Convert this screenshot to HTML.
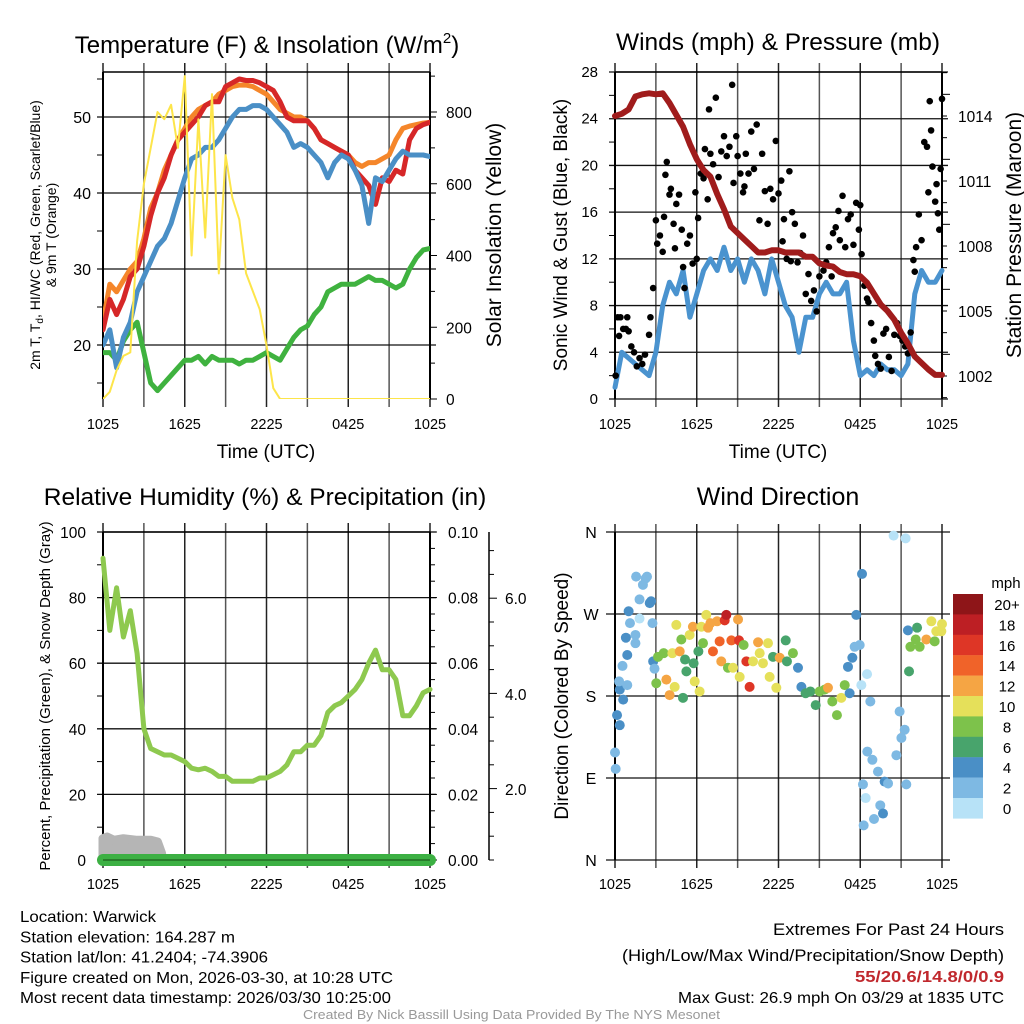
<!DOCTYPE html>
<html><head><meta charset="utf-8"><style>
html,body{margin:0;padding:0;background:#fff;}
svg{display:block;font-family:"Liberation Sans",Arial,sans-serif;}
</style></head><body>
<svg id="c" width="1024" height="1024" viewBox="0 0 1024 1024" xmlns="http://www.w3.org/2000/svg"></svg>
<script>
// ---------- data (half-hourly, hour 0..24 from 1025 UTC) ----------
const xTickLabels = ["1025","1625","2225","0425","1025"];
const tempRed = [22,26,24,26,29,30,33,37,40,42,45,47,48,49,50,51.5,52,52,54,54.5,55,54.8,54.8,54.5,54,53.5,52,50,49.5,49.5,49.5,48.5,47,46.5,46,45.5,45,43,42,41,38.5,42,41.5,43,42.5,47,48.5,49,49.3];
const tempOrange = [23,28,27,28.5,30,31,34,38,40,43,45,47,48.5,50,51,51.5,52,53,53.5,54,54.2,54.2,54,53.5,53,52,51,50.5,50,50,49.5,48.5,47,46.5,46,45.5,45,44,43.5,44,44,44.5,45,47,48.5,48.8,49,49.2,49.3];
const tempBlue = [20,22,17,21,23,27,29,31,33,34,36,39,42,44.5,45,46,46,47,48.5,50,51,51,51.5,51.5,51,50,49,48,46,46.5,46,45,44,42,44,45,44.5,43,41,36,42,41.5,43,44.5,45.5,45,45,45,44.8];
const dewGreen = [19,19,18,20.5,22,23,19,15,14,15,16,17,18,18,18.5,17.5,18.5,18,18,18,17.5,18,18,18.5,19,18.5,18,19.5,21,22,22.5,24,25,27,27.5,28,28,28,28.5,29,28.5,28.5,28,27.5,28,30,31.5,32.5,32.7];
const solar = [0,20,80,120,130,440,600,700,800,780,820,700,900,400,780,450,850,350,680,560,500,350,300,250,150,30,0,0,0,0,0,0,0,0,0,0,0,0,0,0,0,0,0,0,0,0,0,0,0];
const windSpeed = [1,4,3.5,3,2.5,2,4,8,10,9,11,7,9,11,12,11,13,11,12,10,12,11,9,12,10,8,7,4,7,7,9,10,9,9,10,5,2,2.5,2,3,2.5,2.5,2,3,9,11,10,10,11];
const pressure = [1014,1014.1,1014.3,1014.9,1015,1015.05,1015,1015.05,1014.6,1014.05,1013.5,1012.7,1012,1011.5,1011.2,1010.4,1009.7,1008.9,1008.6,1008.3,1008,1007.7,1007.7,1007.8,1007.8,1007.7,1007.7,1007.7,1007.5,1007.5,1007.2,1007.1,1007.05,1006.8,1006.7,1006.7,1006.6,1006.3,1005.8,1005.3,1005,1004.6,1004,1003.5,1002.9,1002.6,1002.3,1002.05,1002.05];
const gustHours = [0.05,0.2,0.3,0.4,0.6,0.8,0.9,1.0,1.2,1.4,1.6,1.8,2.0,2.2,2.5,2.6,2.8,3.0,3.1,3.3,3.5,3.6,3.7,3.8,4.0,4.1,4.3,4.4,4.5,4.7,4.9,5.0,5.1,5.3,5.5,5.7,5.9,6.0,6.1,6.3,6.5,6.6,6.8,6.9,7.0,7.2,7.4,7.6,7.8,8.0,8.2,8.4,8.6,8.7,8.9,9.0,9.2,9.4,9.5,9.6,9.8,10.0,10.2,10.4,10.6,10.8,11.0,11.2,11.4,11.6,11.8,12.0,12.2,12.3,12.4,12.6,12.8,12.9,13.0,13.2,13.4,13.6,13.8,14.0,14.2,14.4,14.6,14.8,15.0,15.3,15.5,15.7,15.9,16.0,16.2,16.4,16.5,16.7,16.9,17.1,17.3,17.5,17.7,17.9,18.0,18.1,18.3,18.5,18.6,18.8,19.0,19.1,19.3,19.5,19.7,19.9,20.1,20.3,20.5,20.7,20.9,21.1,21.3,21.5,21.7,21.9,22.0,22.1,22.3,22.5,22.7,22.9,23.0,23.1,23.2,23.3,23.5,23.6,23.7,23.8,23.9,24.0];
const gustValues = [2,7,5.4,7,6,6,7,5.8,4.5,4,2.8,3.5,3,3.8,5.5,7,9.5,15.3,13.3,14,12.6,15.6,19.2,20.3,17.5,18,15,12.9,16.7,17.5,14.5,11.3,9.5,13.3,14,11.6,17.7,12,15.5,19.3,18.9,21.4,17.1,24.8,21,20.1,25.8,19,21.2,22.5,20.8,21.6,26.9,18.5,22.5,20.8,19.3,17.7,18.2,21,19.3,22.9,19.7,23.5,15.3,21,17.8,15,18,17.1,22.1,17.6,18.7,13.5,15.4,12,19.5,11.8,16,15,11.7,12.5,14,9,10.7,8.4,9.3,7.5,10.5,11,11.7,13,10.5,14.2,14.7,16.1,13.6,17.4,13,15.4,15.8,13.2,16.8,14.5,16.6,12.4,9.7,8.6,8.3,6.5,5,3.7,3,2.6,5.6,6,3.6,2.4,5.5,6.5,5.4,5,4.5,3.9,5.7,11.9,10.9,13,15.8,13.6,22,21.6,17.7,25.5,23,19.9,16.9,18.4,15.9,14.5,19.7,25.7];
const rh = [92,70,83,68,76,63,40,34,33,32,32,31,30,28,27.5,28,27,25.5,25.5,24,24,24,24,25,25,26,27,29,33,33,35,35,38,45,47,48,50,52,55,60,64,58,58,55,44,44,47,51,52];
const snowHours = [0,0.3,0.8,1.5,2.5,3.5,4.0,4.3];
const snowValues = [6.5,7,6,6.5,6,6,5.5,2];
const precip = 0;
const dirHours = [0,0.05,0.15,0.35,0.35,0.3,0.6,0.55,0.9,0.9,0.8,1.0,1.1,1.5,1.5,1.8,1.8,1.55,2.05,2.25,2.35,2.55,2.65,2.75,2.8,2.9,3.16,3.57,3.03,3.77,4.01,4.38,4.21,4.5,4.75,4.87,5.14,5.24,4.99,5.48,5.72,5.77,5.85,6.21,6.12,6.34,6.7,6.83,6.46,7.0,7.19,7.49,7.68,7.8,8.05,8.17,8.29,8.54,8.66,9.03,9.1,9.15,9.44,9.64,9.88,10.13,10.5,10.62,10.86,11.23,11.35,11.6,11.84,12.09,12.53,12.62,13.06,13.43,13.68,13.99,14.34,14.73,15.02,15.39,15.63,15.95,16.29,16.61,16.86,17.1,17.22,17.42,17.59,17.71,17.96,18.08,18.5,18.13,18.2,18.25,18.4,18.52,18.74,18.89,19.01,19.3,19.47,19.67,19.79,20.04,20.45,20.65,20.89,21.02,21.26,21.38,21.33,21.5,21.58,21.68,22.07,22.17,22.36,22.85,23.22,23.46,23.58,23.95,24];
const dirDegrees = [118,100,159,148,187,196,176,213,192,225,244,273,260,238,247,265,286,311,302,309,311,282,284,260,218,210,223,227,194,198,181,190,227,258,229,242,220,207,178,247,256,216,196,185,229,256,269,255,238,260,229,262,240,218,263,269,211,241,211,264,241,201,236,218,190,218,239,227,216,238,201,223,189,222,241,218,227,211,190,183,185,170,185,187,189,174,159,178,192,212,183,222,234,269,236,192,204,314,83,38,68,119,174,110,45,97,60,51,86,84,356,115,163,134,143,83,353,252,207,234,242,255,234,242,262,240,251,251,259];
const dirSpeeds = [1,1,4,4,4,2,4,2,2,4,4,4,2,2,1,0,2,1,2,2,1,4,4,2,4,2,8,8,8,12,12,10,10,10,12,8,6,6,6,10,12,6,10,10,6,10,10,12,8,12,14,12,14,12,16,18,8,14,10,12,16,10,8,16,16,10,12,10,10,10,10,6,10,12,6,6,8,4,4,6,6,6,8,8,12,8,8,10,8,4,4,4,2,4,2,0,0,4,2,2,0,2,2,2,2,2,2,4,4,2,0,2,2,2,2,2,0,4,6,8,8,6,8,12,10,8,10,10,10];
const cbarLabels = ["20+","18","16","14","12","10","8","6","4","2","0"];
const cbarColors = ["#8e1518","#bd1f24","#de3626","#f06329","#f5a544","#e5e05a","#7dc24b","#48a46c","#4a8fc6","#7eb9e3","#b7e2f7"];

// ---------- helpers ----------
const svg = document.getElementById('c');
const NS = "http://www.w3.org/2000/svg";
function mk(tag, attrs, parent){ const e=document.createElementNS(NS,tag); for(const k in attrs) e.setAttribute(k,attrs[k]); (parent||svg).appendChild(e); return e; }
function txt(s, attrs, parent){ const e=mk('text',attrs,parent); e.textContent=s; return e; }
function xs(x0,x1){ return h => x0 + (x1-x0)*h/24; }
function lin(v0,v1,p0,p1){ return v => p0 + (v-v0)*(p1-p0)/(v1-v0); }
function lineSeries(arr, X, Y, color, w, name, parent){
  let d=''; arr.forEach((v,i)=>{ d += (i?'L':'M') + X(i*0.5).toFixed(1)+','+Y(v).toFixed(1); });
  const p = mk('path',{d:d,fill:'none',stroke:color,'stroke-width':w,'stroke-linejoin':'round','stroke-linecap':'round'},parent);
  
  
  return p;
}
function grid(x0,x1,y0,y1,hLines,parent){
  for(let i=0;i<=8;i++){ const x=x0+(x1-x0)*i/8;
    mk('line',{x1:x,x2:x,y1:y0-9,y2:y1+8,stroke:(i%2?'#555':'#222'),'stroke-width':1.5},parent); }
  hLines.forEach(y=>mk('line',{x1:x0-6,x2:x1+6,y1:y,y2:y,stroke:'#111','stroke-width':1.3},parent));
  mk('line',{x1:x0,x2:x0,y1:y0,y2:y1,stroke:'#000','stroke-width':2},parent);
  mk('line',{x1:x1,x2:x1,y1:y0,y2:y1,stroke:'#000','stroke-width':2},parent);
  mk('line',{x1:x0,x2:x1,y1:y0,y2:y0,stroke:'#000','stroke-width':1.5},parent);
}
function xLabels(x0,x1,y,parent){
  xTickLabels.forEach((s,i)=>{ const t=txt(s,{x:x0+(x1-x0)*i/4,y:y,'font-size':14.5,'text-anchor':'middle'},parent);
      });
}
function G(name){ const g=mk('g',{});   return g; }

// ---------- Panel 1: temperature ----------
{
  const g=G('temperature-panel');
  const X=xs(103,430), Y=lin(20,50,345,117), YS=lin(0,800,399,112);
  grid(103,430,72,399,[50,40,30,20].map(Y),g);
  for(let v=15;v<=55;v+=10) mk('line',{x1:97,x2:103,y1:Y(v),y2:Y(v),stroke:'#000'},g);
  for(let v=0;v<=900;v+=100) mk('line',{x1:430,x2:(v%200?435:437),y1:YS(v),y2:YS(v),stroke:'#000'},g);
  [20,30,40,50].forEach(v=>txt(String(v),{x:91,y:Y(v)+6,'font-size':16,'text-anchor':'end'},g));
  [0,200,400,600,800].forEach(v=>txt(String(v),{x:446,y:YS(v)+6,'font-size':15.5},g));
  const clip=mk('clipPath',{id:'cp1'},g); mk('rect',{x:103,y:72,width:327,height:327},clip);
  const s=mk('g',{'clip-path':'url(#cp1)'},g);
  lineSeries(dewGreen,X,Y,'#3fb23f',5,'dewpoint-line',s);
  lineSeries(tempOrange,X,Y,'#f5862a',5,'temp-9m-line',s);
  lineSeries(tempRed,X,Y,'#d62728',5,'temp-2m-line',s);
  lineSeries(tempBlue,X,Y,'#4a8fc6',5,'heat-index-windchill-line',s);
  lineSeries(solar,X,YS,'#fde54a',2,'solar-insolation-line',s);
  xLabels(103,430,429,g);
  txt('Time (UTC)',{x:266,y:458,'font-size':19,'text-anchor':'middle'},g);
  const t=txt('',{x:0,y:0,'font-size':24,'text-anchor':'middle',transform:'translate(267,53)'},g);
  t.innerHTML='Temperature (F) &amp; Insolation (W/m<tspan font-size="15" dy="-10">2</tspan><tspan dy="10">)</tspan>';
  
  const yt=mk('text',{transform:'translate(40,235) rotate(-90)','font-size':14,'text-anchor':'middle'},g);
  yt.innerHTML='2m T, T<tspan font-size="10" dy="3">d</tspan><tspan dy="-3">, HI/WC (Red, Green, Scarlet/Blue)</tspan>';
  
  txt('& 9m T (Orange)',{transform:'translate(56,235) rotate(-90)','font-size':14,'text-anchor':'middle'},g);
  txt('Solar Insolation (Yellow)',{transform:'translate(501,235) rotate(-90)','font-size':21,'text-anchor':'middle'},g);
}

// ---------- Panel 2: winds ----------
{
  const g=G('winds-panel');
  const X=xs(615,942), Y=lin(0,28,399,72), YP=lin(1002,1014,376,116);
  grid(615,942,72,399,[0,4,8,12,16,20,24,28].map(Y),g);
  for(let v=2;v<28;v+=4) mk('line',{x1:609,x2:615,y1:Y(v),y2:Y(v),stroke:'#000'},g);
  for(let v=1001;v<=1016;v++) mk('line',{x1:942,x2:(v%3==1?950:947),y1:YP(v),y2:YP(v),stroke:'#000'},g);
  [0,4,8,12,16,20,24,28].forEach(v=>txt(String(v),{x:598,y:Y(v)+5,'font-size':15,'text-anchor':'end'},g));
  [1002,1005,1008,1011,1014].forEach(v=>txt(String(v),{x:958,y:YP(v)+6,'font-size':15.5},g));
  const clip=mk('clipPath',{id:'cp2'},g); mk('rect',{x:612,y:68,width:334,height:334},clip);
  const s=mk('g',{'clip-path':'url(#cp2)'},g);
  lineSeries(windSpeed,X,Y,'#4a93cf',5,'sonic-wind-line',s);
  gustHours.forEach((h,i)=>{ const c=mk('circle',{cx:X(h),cy:Y(gustValues[i]),r:3.3,fill:'#000'},s);
      });
  lineSeries(pressure,X,YP,'#a01c1c',6,'station-pressure-line',s);
  xLabels(615,942,429,g);
  txt('Time (UTC)',{x:778,y:458,'font-size':19,'text-anchor':'middle'},g);
  txt('Winds (mph) & Pressure (mb)',{x:778,y:50,'font-size':24.5,'text-anchor':'middle'},g);
  txt('Sonic Wind & Gust (Blue, Black)',{transform:'translate(567,235) rotate(-90)','font-size':19,'text-anchor':'middle'},g);
  txt('Station Pressure (Maroon)',{transform:'translate(1021,235) rotate(-90)','font-size':21,'text-anchor':'middle'},g);
}

// ---------- Panel 3: RH ----------
{
  const g=G('humidity-panel');
  const X=xs(103,430), Y=lin(0,100,860,532);
  grid(103,430,532,860,[0,20,40,60,80,100].map(Y),g);
  for(let v=10;v<100;v+=20) mk('line',{x1:97,x2:103,y1:Y(v),y2:Y(v),stroke:'#000'},g);
  for(let v=0;v<=100;v+=5) mk('line',{x1:430,x2:(v%20?435:437),y1:Y(v),y2:Y(v),stroke:'#000'},g);
  [0,20,40,60,80,100].forEach(v=>txt(String(v),{x:86,y:Y(v)+6,'font-size':15.5,'text-anchor':'end'},g));
  ['0.00','0.02','0.04','0.06','0.08','0.10'].forEach((s,i)=>txt(s,{x:448,y:Y(i*20)+6,'font-size':15.5},g));
  mk('line',{x1:489,x2:489,y1:532,y2:860,stroke:'#000','stroke-width':1.5},g);
  for(let y=860;y>=532;y-=23.8) mk('line',{x1:489,x2:(Math.round((884-y)/23.8)%4==0?497:494),y1:y,y2:y,stroke:'#000'},g);
  [['2.0',789],['4.0',694],['6.0',598]].forEach(a=>txt(a[0],{x:505,y:a[1]+6,'font-size':15.5},g));
  const clip=mk('clipPath',{id:'cp3'},g); mk('rect',{x:92,y:532,width:350,height:345},clip);
  const s=mk('g',{'clip-path':'url(#cp3)'},g);
  let sd='M'+X(snowHours[0])+','+Y(0);
  snowHours.forEach((h,i)=>{ sd+='L'+X(h).toFixed(1)+','+Y(snowValues[i]).toFixed(1); });
  sd+='L'+X(snowHours[snowHours.length-1])+','+Y(0)+'Z';
  const sn=mk('path',{d:sd,fill:'#b5b5b5',stroke:'#b5b5b5','stroke-width':9,'stroke-linejoin':'round'},s);
   
  const pr=mk('line',{x1:X(0),x2:X(24),y1:Y(precip),y2:Y(precip),stroke:'#3cb043','stroke-width':12,'stroke-linecap':'round'},s);
   
  mk('line',{x1:X(0),x2:X(24),y1:Y(0),y2:Y(0),stroke:'#1d5e1d','stroke-width':1.2},s);
  lineSeries(rh,X,Y,'#8ec94f',5,'relative-humidity-line',s);
  xLabels(103,430,889,g);
  txt('Relative Humidity (%) & Precipitation (in)',{x:265,y:505,'font-size':24.5,'text-anchor':'middle'},g);
  txt('Percent, Precipitation (Green), & Snow Depth (Gray)',{transform:'translate(50,696) rotate(-90)','font-size':15,'text-anchor':'middle'},g);
}

// ---------- Panel 4: wind direction ----------
{
  const g=G('wind-direction-panel');
  const X=xs(615,942), Y=lin(0,360,860,532);
  for(let i=0;i<=8;i++){ const x=615+327*i/8; mk('line',{x1:x,x2:x,y1:524,y2:868,stroke:(i%2?'#555':'#222'),'stroke-width':1.5},g); }
  [0,90,180,270,360].forEach(v=>mk('line',{x1:606,x2:950,y1:Y(v),y2:Y(v),stroke:'#111','stroke-width':1.3},g));
  mk('line',{x1:615,x2:615,y1:532,y2:860,stroke:'#000','stroke-width':2},g);
  [['N',0],['E',90],['S',180],['W',270],['N',360]].forEach(a=>txt(a[0],{x:591,y:Y(a[1])+6,'font-size':16,'text-anchor':'middle'},g));
  dirHours.forEach((h,i)=>{ const idx=10-Math.min(10,Math.round(dirSpeeds[i]/2));
    const c=mk('circle',{cx:X(h),cy:Y(dirDegrees[i]),r:5,fill:cbarColors[idx]},g);
      });
  cbarColors.forEach((col,i)=>{ const r=mk('rect',{x:953,y:594+i*20.4,width:30,height:20.6,fill:col},g);
     
    txt(cbarLabels[i],{x:1007,y:594+i*20.4+16,'font-size':15,'text-anchor':'middle'},g); });
  txt('mph',{x:1006,y:588,'font-size':15,'text-anchor':'middle'},g);
  xLabels(615,942,889,g);
  txt('Wind Direction',{x:778,y:505,'font-size':25,'text-anchor':'middle'},g);
  txt('Direction (Colored By Speed)',{transform:'translate(568,696) rotate(-90)','font-size':19,'text-anchor':'middle'},g);
}

// ---------- footer ----------
{
  const g=G('footer-info');
  const L=[['Location: Warwick',136],['Station elevation: 164.287 m',215],['Station lat/lon: 41.2404; -74.3906',248],['Figure created on Mon, 2026-03-30, at 10:28 UTC',373],['Most recent data timestamp: 2026/03/30 10:25:00',371]];
  L.forEach((a,i)=>txt(a[0],{x:20,y:922+i*20.3,'font-size':16,textLength:a[1],lengthAdjust:'spacingAndGlyphs'},g));
  txt('Extremes For Past 24 Hours',{x:773,y:935,'font-size':17,textLength:231,lengthAdjust:'spacingAndGlyphs'},g);
  txt('(High/Low/Max Wind/Precipitation/Snow Depth)',{x:622,y:961,'font-size':17,textLength:382,lengthAdjust:'spacingAndGlyphs'},g);
  txt('55/20.6/14.8/0/0.9',{x:855,y:982,'font-size':16,'font-weight':'bold',fill:'#c0282d',textLength:149,lengthAdjust:'spacingAndGlyphs'},g);
  txt('Max Gust: 26.9 mph On 03/29 at 1835 UTC',{x:678,y:1003,'font-size':16,textLength:326,lengthAdjust:'spacingAndGlyphs'},g);
  txt('Created By Nick Bassill Using Data Provided By The NYS Mesonet',{x:303,y:1019,'font-size':12.5,fill:'#999',textLength:417,lengthAdjust:'spacingAndGlyphs'},g);
}
</script>
</body></html>
